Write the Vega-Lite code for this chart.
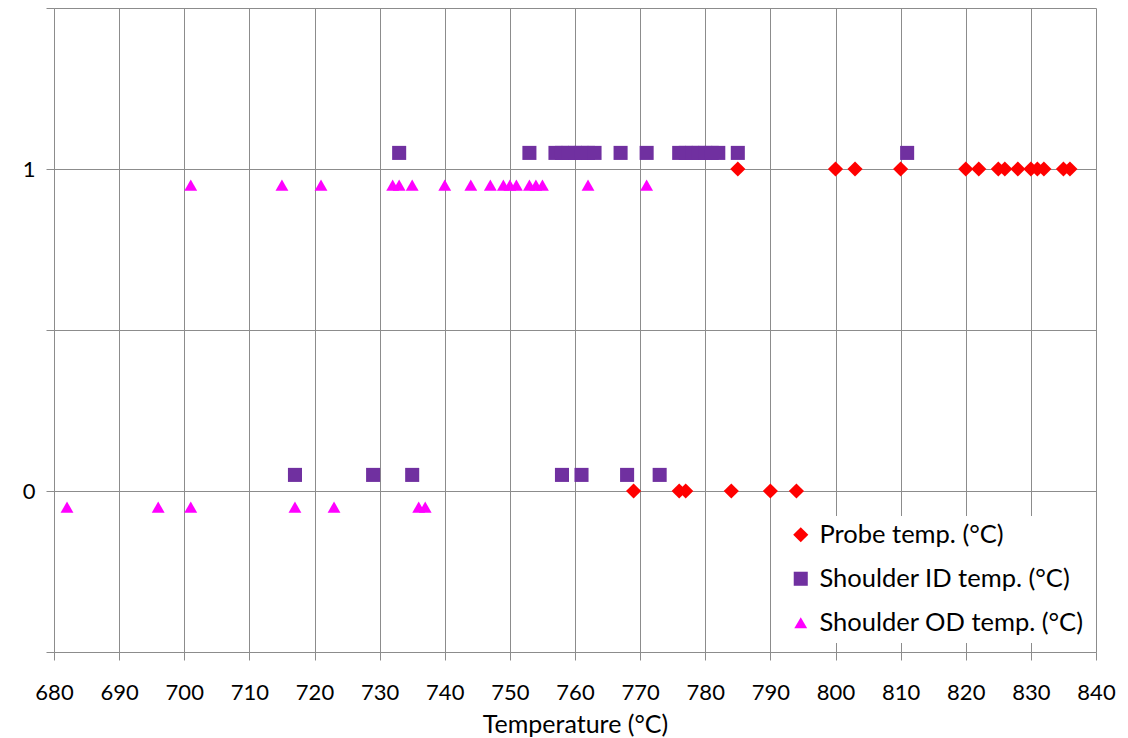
{
  "$schema": "https://vega.github.io/schema/vega-lite/v6.json",
  "autosize": "none",
  "width": 1042,
  "height": 644,
  "padding": {"left": 54, "top": 8, "right": 32, "bottom": 86},
  "background": "white",
  "config": {
    "view": {"stroke": null},
    "font": "Lato",
    "axis": {
      "gridColor": "#8c8c8c",
      "gridOpacity": 1,
      "gridWidth": 1,
      "domainColor": "#8c8c8c",
      "tickColor": "#8c8c8c",
      "tickSize": 8,
      "labelColor": "#000000",
      "labelFont": "Lato",
      "titleFont": "Lato",
      "titleColor": "#000000",
      "titleFontWeight": "normal"
    }
  },
  "datasets": {
    "pts": [
      {"series": "Probe temp. (°C)", "temp": 785, "state": 1},
      {"series": "Probe temp. (°C)", "temp": 800, "state": 1},
      {"series": "Probe temp. (°C)", "temp": 803, "state": 1},
      {"series": "Probe temp. (°C)", "temp": 810, "state": 1},
      {"series": "Probe temp. (°C)", "temp": 820, "state": 1},
      {"series": "Probe temp. (°C)", "temp": 822, "state": 1},
      {"series": "Probe temp. (°C)", "temp": 825, "state": 1},
      {"series": "Probe temp. (°C)", "temp": 826, "state": 1},
      {"series": "Probe temp. (°C)", "temp": 828, "state": 1},
      {"series": "Probe temp. (°C)", "temp": 830, "state": 1},
      {"series": "Probe temp. (°C)", "temp": 831, "state": 1},
      {"series": "Probe temp. (°C)", "temp": 832, "state": 1},
      {"series": "Probe temp. (°C)", "temp": 835, "state": 1},
      {"series": "Probe temp. (°C)", "temp": 836, "state": 1},
      {"series": "Probe temp. (°C)", "temp": 769, "state": 0},
      {"series": "Probe temp. (°C)", "temp": 776, "state": 0},
      {"series": "Probe temp. (°C)", "temp": 777, "state": 0},
      {"series": "Probe temp. (°C)", "temp": 784, "state": 0},
      {"series": "Probe temp. (°C)", "temp": 790, "state": 0},
      {"series": "Probe temp. (°C)", "temp": 794, "state": 0},
      {"series": "Shoulder ID temp. (°C)", "temp": 733, "state": 1.05},
      {"series": "Shoulder ID temp. (°C)", "temp": 753, "state": 1.05},
      {"series": "Shoulder ID temp. (°C)", "temp": 757, "state": 1.05},
      {"series": "Shoulder ID temp. (°C)", "temp": 758, "state": 1.05},
      {"series": "Shoulder ID temp. (°C)", "temp": 759, "state": 1.05},
      {"series": "Shoulder ID temp. (°C)", "temp": 760, "state": 1.05},
      {"series": "Shoulder ID temp. (°C)", "temp": 761, "state": 1.05},
      {"series": "Shoulder ID temp. (°C)", "temp": 762, "state": 1.05},
      {"series": "Shoulder ID temp. (°C)", "temp": 763, "state": 1.05},
      {"series": "Shoulder ID temp. (°C)", "temp": 767, "state": 1.05},
      {"series": "Shoulder ID temp. (°C)", "temp": 771, "state": 1.05},
      {"series": "Shoulder ID temp. (°C)", "temp": 776, "state": 1.05},
      {"series": "Shoulder ID temp. (°C)", "temp": 777, "state": 1.05},
      {"series": "Shoulder ID temp. (°C)", "temp": 778, "state": 1.05},
      {"series": "Shoulder ID temp. (°C)", "temp": 779, "state": 1.05},
      {"series": "Shoulder ID temp. (°C)", "temp": 780, "state": 1.05},
      {"series": "Shoulder ID temp. (°C)", "temp": 781, "state": 1.05},
      {"series": "Shoulder ID temp. (°C)", "temp": 782, "state": 1.05},
      {"series": "Shoulder ID temp. (°C)", "temp": 785, "state": 1.05},
      {"series": "Shoulder ID temp. (°C)", "temp": 811, "state": 1.05},
      {"series": "Shoulder ID temp. (°C)", "temp": 717, "state": 0.05},
      {"series": "Shoulder ID temp. (°C)", "temp": 729, "state": 0.05},
      {"series": "Shoulder ID temp. (°C)", "temp": 735, "state": 0.05},
      {"series": "Shoulder ID temp. (°C)", "temp": 758, "state": 0.05},
      {"series": "Shoulder ID temp. (°C)", "temp": 761, "state": 0.05},
      {"series": "Shoulder ID temp. (°C)", "temp": 768, "state": 0.05},
      {"series": "Shoulder ID temp. (°C)", "temp": 773, "state": 0.05},
      {"series": "Shoulder OD temp. (°C)", "temp": 701, "state": 0.95},
      {"series": "Shoulder OD temp. (°C)", "temp": 715, "state": 0.95},
      {"series": "Shoulder OD temp. (°C)", "temp": 721, "state": 0.95},
      {"series": "Shoulder OD temp. (°C)", "temp": 732, "state": 0.95},
      {"series": "Shoulder OD temp. (°C)", "temp": 733, "state": 0.95},
      {"series": "Shoulder OD temp. (°C)", "temp": 735, "state": 0.95},
      {"series": "Shoulder OD temp. (°C)", "temp": 740, "state": 0.95},
      {"series": "Shoulder OD temp. (°C)", "temp": 744, "state": 0.95},
      {"series": "Shoulder OD temp. (°C)", "temp": 747, "state": 0.95},
      {"series": "Shoulder OD temp. (°C)", "temp": 749, "state": 0.95},
      {"series": "Shoulder OD temp. (°C)", "temp": 750, "state": 0.95},
      {"series": "Shoulder OD temp. (°C)", "temp": 751, "state": 0.95},
      {"series": "Shoulder OD temp. (°C)", "temp": 753, "state": 0.95},
      {"series": "Shoulder OD temp. (°C)", "temp": 754, "state": 0.95},
      {"series": "Shoulder OD temp. (°C)", "temp": 755, "state": 0.95},
      {"series": "Shoulder OD temp. (°C)", "temp": 762, "state": 0.95},
      {"series": "Shoulder OD temp. (°C)", "temp": 771, "state": 0.95},
      {"series": "Shoulder OD temp. (°C)", "temp": 682, "state": -0.05},
      {"series": "Shoulder OD temp. (°C)", "temp": 696, "state": -0.05},
      {"series": "Shoulder OD temp. (°C)", "temp": 701, "state": -0.05},
      {"series": "Shoulder OD temp. (°C)", "temp": 717, "state": -0.05},
      {"series": "Shoulder OD temp. (°C)", "temp": 723, "state": -0.05},
      {"series": "Shoulder OD temp. (°C)", "temp": 736, "state": -0.05},
      {"series": "Shoulder OD temp. (°C)", "temp": 737, "state": -0.05}
    ]
  },
  "data": {"name": "pts"},
  "mark": {"type": "point", "filled": true, "opacity": 1, "strokeWidth": 0},
  "encoding": {
    "x": {
      "field": "temp",
      "type": "quantitative",
      "scale": {"domain": [680, 840], "nice": false, "zero": false},
      "axis": {
        "values": [680, 690, 700, 710, 720, 730, 740, 750, 760, 770, 780, 790, 800, 810, 820, 830, 840],
        "title": "Temperature (°C)",
        "labelFontSize": 22,
        "labelPadding": 22,
        "titleFontSize": 25,
        "titlePadding": 9,
        "labelFlush": false
      }
    },
    "y": {
      "field": "state",
      "type": "quantitative",
      "scale": {"domain": [-0.5, 1.5], "nice": false, "zero": false},
      "axis": {
        "values": [-0.5, 0, 0.5, 1, 1.5],
        "labelExpr": "datum.value == 0 ? '0' : (datum.value == 1 ? '1' : '')",
        "title": null,
        "labelFontSize": 22,
        "labelPadding": 11
      }
    },
    "color": {
      "field": "series",
      "type": "nominal",
      "scale": {
        "domain": ["Probe temp. (°C)", "Shoulder ID temp. (°C)", "Shoulder OD temp. (°C)"],
        "range": ["#ff0000", "#7030a0", "#ff00ff"]
      },
      "legend": {
        "title": null,
        "orient": "none",
        "legendX": 728,
        "legendY": 508,
        "labelFontSize": 25.5,
        "labelFont": "Lato",
        "labelColor": "#000000",
        "labelLimit": 0,
        "symbolSize": 120,
        "rowPadding": 17,
        "labelOffset": 6,
        "fillColor": "white",
        "padding": 6
      }
    },
    "shape": {
      "field": "series",
      "type": "nominal",
      "scale": {
        "domain": ["Probe temp. (°C)", "Shoulder ID temp. (°C)", "Shoulder OD temp. (°C)"],
        "range": ["diamond", "square", "triangle-up"]
      },
      "legend": null
    },
    "size": {
      "field": "series",
      "type": "nominal",
      "scale": {
        "domain": ["Probe temp. (°C)", "Shoulder ID temp. (°C)", "Shoulder OD temp. (°C)"],
        "range": [230, 165, 210]
      },
      "legend": null
    }
  }
}
